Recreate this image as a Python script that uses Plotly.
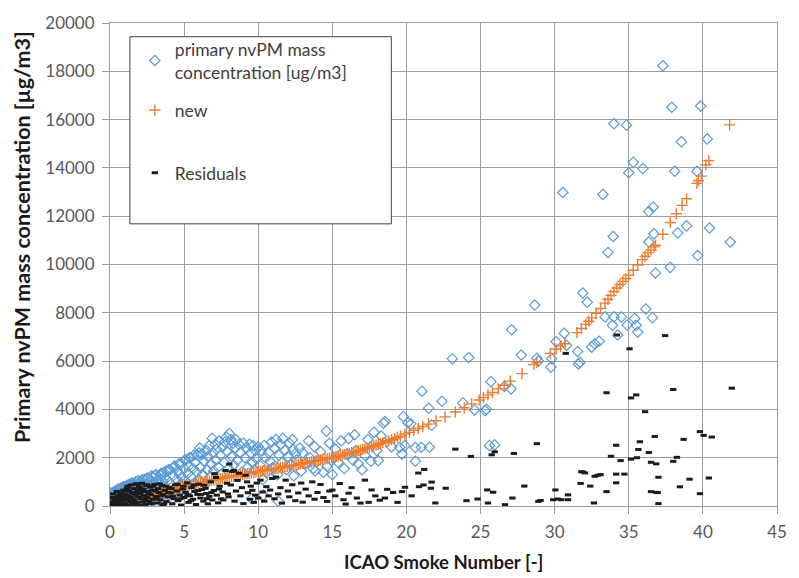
import plotly.graph_objects as go

# ---------------- data ----------------
# primary nvPM mass concentration [ug/m3] vs ICAO Smoke Number
primary_pts = [
    (0.0, 0), (0.0, 100), (0.0, 250), (0.0, 400), (0.0, 550), (0.05, 50), (0.1, 120), (0.1, 300), (0.15, 20),
    (0.15, 550), (0.35, 620), (0.55, 700), (0.75, 750), (1.0, 800), (1.2, 850), (1.4, 900), (1.65, 950), (1.9, 1050),
    (2.2, 1100), (2.5, 1150), (2.8, 1250), (3.1, 1300), (3.45, 1350), (3.65, 1400), (3.95, 1500), (4.3, 1600),
    (4.65, 1750), (5.05, 1900), (5.35, 2000), (5.65, 2100), (6.0, 2200),
    (0.2, 200), (0.2, 450), (0.25, 80), (0.3, 350), (0.3, 600), (0.35, 150), (0.4, 250), (0.4, 500), (0.45, 40),
    (0.5, 420), (0.5, 650), (0.55, 180), (0.6, 300), (0.65, 550), (0.7, 100), (0.7, 700), (0.75, 400), (0.8, 250),
    (0.85, 600), (0.9, 150), (0.9, 800), (0.95, 450), (1.0, 300), (1.0, 700),
    (1.05, 50), (1.1, 550), (1.15, 850), (1.2, 200), (1.25, 400), (1.3, 900), (1.35, 650), (1.4, 100), (1.45, 750),
    (1.5, 300), (1.5, 950), (1.55, 500), (1.6, 850), (1.65, 200), (1.7, 650), (1.75, 1000), (1.8, 400), (1.85, 800),
    (1.9, 100), (1.95, 600), (2.0, 950),
    (2.05, 300), (2.1, 1050), (2.15, 700), (2.2, 150), (2.25, 850), (2.3, 500), (2.35, 1100), (2.4, 250), (2.45, 900),
    (2.5, 650), (2.55, 1150), (2.6, 100), (2.65, 400), (2.7, 1000), (2.75, 800), (2.8, 200), (2.85, 1200), (2.9, 550),
    (2.95, 950), (3.0, 350),
    (3.05, 1250), (3.1, 700), (3.15, 150), (3.2, 1100), (3.3, 900), (3.35, 450), (3.4, 1300), (3.5, 600), (3.55, 1000),
    (3.6, 250), (3.7, 1200), (3.75, 800), (3.8, 1450), (3.85, 400), (3.9, 1050), (4.0, 650),
    (4.05, 1500), (4.1, 900), (4.2, 300), (4.25, 1250), (4.35, 1650), (4.4, 700), (4.5, 1100), (4.55, 1450), (4.6, 500),
    (4.7, 1300), (4.75, 900), (4.8, 1750), (4.9, 1150), (4.95, 600), (5.0, 1550),
    (5.1, 1900), (5.15, 1000), (5.25, 1350), (5.3, 1650), (5.4, 700), (5.45, 2000), (5.5, 1200), (5.6, 1550), (5.7, 950),
    (5.75, 1800), (5.85, 1400), (5.9, 2100), (6.0, 1100),
    (6.05, 2400), (6.1, 1600), (6.2, 2150), (6.25, 1300), (6.35, 1850), (6.4, 900), (6.5, 2300), (6.55, 1500), (6.6, 2050),
    (6.7, 2500), (6.75, 1200), (6.8, 1750), (6.9, 2800), (6.95, 2200), (7.0, 1450),
    (7.1, 2550), (7.15, 1900), (7.2, 2350), (7.3, 1600), (7.35, 2700), (7.45, 2100), (7.5, 1300), (7.6, 2450), (7.7, 1800),
    (7.75, 2650), (7.85, 2850), (7.9, 2250), (8.0, 1550),
    (8.05, 3000), (8.15, 2750), (8.2, 2050), (8.3, 2600), (8.35, 1700), (8.45, 2400), (8.5, 2750), (8.6, 1900), (8.7, 2550),
    (8.8, 2200), (8.9, 1400), (9.0, 2600),
    (9.1, 2000), (9.2, 2400), (9.3, 1600), (9.4, 2550), (9.5, 2200), (9.55, 300), (9.6, 1800), (9.65, 2500), (9.75, 1500),
    (9.8, 2300), (9.9, 1950), (10.0, 2450),
    (10.1, 1700), (10.2, 2300), (10.3, 1100), (10.35, 450), (10.4, 2500), (10.5, 2000), (10.6, 1400), (10.7, 2200),
    (10.8, 1850), (10.9, 2650), (11.0, 1600), (11.1, 2400), (11.2, 2750), (11.3, 1300), (11.35, 200), (11.4, 2100),
    (11.5, 2550), (11.6, 1800), (11.65, 2800), (11.8, 2300), (11.9, 1500), (12.0, 2050),
    (12.1, 2600), (12.2, 1700), (12.3, 2750), (12.35, 2350), (12.4, 1250), (12.5, 2150), (12.6, 1900), (12.8, 2400),
    (12.9, 1450), (13.0, 2200), (13.2, 1750), (13.4, 2700), (13.5, 2000), (13.7, 1550), (13.8, 2450), (13.85, 1450),
    (14.0, 1850),
    (14.2, 2250), (14.4, 1400), (14.6, 3100), (14.65, 1650), (14.8, 2600), (14.95, 1880), (15.0, 1300), (15.2, 2350),
    (15.4, 1800), (15.6, 2700), (15.8, 1550), (16.0, 2150),
    (16.1, 2800), (16.4, 1900), (16.5, 2950), (16.6, 2300), (16.75, 1750), (17.0, 1500), (17.2, 2100), (17.4, 2750),
    (17.6, 1850), (17.8, 3050), (18.0, 2300),
    (18.1, 1880), (18.3, 2900), (18.45, 3430), (18.55, 3500), (19.0, 2450), (19.55, 2420), (19.7, 2150), (19.8, 3700),
    (19.9, 2500),
    (20.1, 3450), (20.3, 3400), (20.6, 1850), (20.6, 2420), (21.0, 2430), (21.05, 4750), (21.5, 4050), (21.55, 2430),
    (21.7, 3350), (22.4, 4340), (23.1, 6100), (23.8, 4270), (24.2, 6150), (24.6, 3980), (25.3, 3950), (25.4, 4000),
    (25.6, 2500), (25.7, 5150), (25.95, 2530), (26.6, 4950), (27.05, 4850), (27.1, 7300), (27.75, 6250), (28.65, 8320),
    (28.8, 6120), (28.9, 6000), (29.75, 5750), (29.8, 6100), (30.1, 6800),
    (30.55, 12980), (30.65, 7150), (30.8, 6650), (31.55, 6400), (31.6, 5880), (31.7, 5950), (31.9, 8820), (32.2, 8440),
    (32.5, 6580), (32.7, 6720), (33.0, 6820), (33.25, 12900), (33.4, 7830), (33.6, 10500), (33.9, 7480), (33.95, 11160),
    (34.0, 15830), (34.0, 7830), (34.25, 7080), (34.5, 7820), (34.85, 15770), (34.9, 7490), (35.0, 13800), (35.3, 14230),
    (35.4, 7760), (35.5, 7480), (35.6, 7200),
    (35.95, 13970), (36.15, 8160), (36.35, 12190), (36.35, 10930), (36.6, 7800), (36.65, 12380), (36.7, 11270),
    (36.8, 9650), (37.3, 18230), (37.8, 9880), (37.9, 16510), (38.1, 13860), (38.3, 11310), (38.55, 15080),
    (38.9, 11600), (39.6, 13860), (39.65, 10370), (39.85, 16560), (40.3, 15200), (40.45, 11510), (41.85, 10930),
]

# "new" model values
new_pts = [
    (0.0, 0), (0.2, 10), (0.4, 25), (0.6, 40), (0.8, 60), (1.0, 80), (1.2, 105), (1.4, 135), (1.6, 165), (1.8, 195),
    (2.0, 230), (2.2, 265), (2.4, 300), (2.6, 340), (2.8, 380), (3.0, 420), (3.2, 460), (3.4, 500), (3.6, 540),
    (3.8, 580), (4.0, 620), (4.3, 680), (4.6, 740), (4.9, 790), (5.2, 840), (5.5, 880), (5.8, 925), (6.1, 965),
    (6.4, 1005), (6.7, 1040), (7.0, 1080), (7.3, 1115), (7.6, 1150), (7.9, 1190), (8.2, 1225), (8.5, 1260), (8.8, 1290),
    (9.1, 1320), (9.4, 1355), (9.7, 1390), (10.0, 1420), (10.3, 1455), (10.6, 1485), (10.9, 1520), (11.2, 1550),
    (11.5, 1585), (11.8, 1620), (12.1, 1650), (12.4, 1685), (12.7, 1720), (13.0, 1760), (13.3, 1795), (13.6, 1830),
    (13.9, 1870), (14.2, 1905), (14.5, 1945), (14.8, 1985), (15.1, 2025), (15.4, 2070), (15.7, 2115), (16.0, 2160),
    (16.3, 2210), (16.6, 2260), (16.9, 2310), (17.2, 2370), (17.5, 2430), (17.8, 2490), (18.1, 2550), (18.4, 2620),
    (18.8, 2700), (19.2, 2790), (19.6, 2890), (19.9, 2980), (20.2, 3050), (20.5, 3130), (20.8, 3210), (21.1, 3290),
    (21.5, 3390), (22.0, 3530), (22.6, 3690), (23.3, 3890), (23.9, 4070), (24.4, 4230), (24.9, 4390), (25.2, 4490),
    (25.5, 4600), (25.8, 4700), (26.2, 4850), (26.6, 5000), (27.0, 5170), (27.8, 5480), (28.6, 5860), (28.8, 5950),
    (29.7, 6320), (30.1, 6500), (30.4, 6620), (30.7, 6720), (31.5, 7180), (31.8, 7350), (32.1, 7520), (32.3, 7650),
    (32.5, 7790), (32.8, 7980), (33.1, 8180), (33.4, 8400), (33.6, 8560), (33.8, 8720), (34.0, 8880), (34.2, 9030),
    (34.4, 9170), (34.6, 9300), (34.8, 9420), (35.0, 9560), (35.3, 9760), (35.6, 9980), (35.9, 10200), (36.1, 10340),
    (36.3, 10480), (36.5, 10600), (36.7, 10730), (36.8, 10800), (37.3, 11250), (37.8, 11740), (38.2, 12100),
    (38.6, 12450), (38.9, 12720), (39.6, 13360), (39.7, 13470), (39.9, 13660), (40.2, 14130), (40.4, 14300),
    (41.8, 15780),
    # denser part of the band between SN 3 and 19
    (3.1, 440), (3.3, 480), (3.5, 520), (3.7, 560), (3.9, 600), (4.15, 650), (4.45, 710), (4.75, 765), (5.05, 815),
    (5.35, 860), (5.65, 900), (5.95, 945), (6.25, 985), (6.55, 1020), (6.85, 1060), (7.15, 1100), (7.45, 1130),
    (7.75, 1170), (8.05, 1205), (8.35, 1240), (8.65, 1275), (8.95, 1305), (9.25, 1340), (9.55, 1370), (9.85, 1405),
    (10.15, 1440), (10.45, 1470), (10.75, 1500), (11.05, 1535), (11.35, 1570), (11.65, 1600), (11.95, 1635),
    (12.25, 1670), (12.55, 1700), (12.85, 1740), (13.15, 1775), (13.45, 1810), (13.75, 1850), (14.05, 1885),
    (14.35, 1925), (14.65, 1965), (14.95, 2005), (15.25, 2045), (15.55, 2090), (15.85, 2135), (16.15, 2185),
    (16.45, 2235), (16.75, 2285), (17.05, 2340), (17.35, 2400), (17.65, 2460), (17.95, 2520), (18.25, 2585),
    (18.6, 2660), (19.0, 2745), (19.4, 2840),
]

# Residuals
residual_pts = [
    (0.0, 0), (0.05, 30), (0.1, 80), (0.15, 150), (0.2, 40), (0.25, 220), (0.3, 100), (0.35, 300), (0.4, 20),
    (0.45, 180), (0.5, 380), (0.55, 60), (0.6, 260), (0.65, 450), (0.7, 130), (0.75, 330), (0.8, 550), (0.85, 10),
    (0.9, 240), (0.9, 660), (0.95, 400), (1.0, 90),
    (1.05, 500), (1.1, 280), (1.15, 750), (1.2, 30), (1.25, 420), (1.3, 620), (1.35, 180), (1.4, 870), (1.45, 350),
    (1.5, 560), (1.55, 70), (1.6, 720), (1.65, 250), (1.7, 480), (1.75, 920), (1.8, 140), (1.85, 640), (1.9, 380),
    (1.95, 800), (2.0, 20),
    (2.05, 520), (2.1, 300), (2.15, 940), (2.2, 160), (2.25, 700), (2.3, 430), (2.4, 60), (2.45, 850), (2.5, 350),
    (2.55, 600), (2.6, 200), (2.7, 780), (2.75, 470), (2.8, 100), (2.85, 650), (2.9, 280), (3.0, 900),
    (3.1, 400), (3.2, 120), (3.25, 720), (3.3, 560), (3.4, 250), (3.5, 850), (3.55, 30), (3.6, 480), (3.7, 650),
    (3.8, 180), (3.9, 380), (4.0, 760),
    (4.1, 540), (4.2, 90), (4.3, 300), (4.4, 880), (4.5, 620), (4.6, 220), (4.7, 450), (4.8, 40), (4.9, 700), (5.0, 350),
    (5.1, 560), (5.2, 960), (5.3, 150), (5.4, 420), (5.5, 760), (5.6, 280), (5.7, 600), (5.8, 60), (5.9, 480), (6.0, 900),
    (6.1, 330), (6.2, 680), (6.3, 200), (6.45, 730), (6.5, 520), (6.6, 90), (6.7, 400), (6.8, 1000), (6.9, 250),
    (7.0, 640),
    (0.1, 350), (0.2, 500), (0.3, 10), (0.45, 600), (0.6, 150), (0.7, 520), (0.8, 380), (0.95, 120), (1.1, 650),
    (1.2, 820), (1.3, 300), (1.45, 160), (1.6, 520), (1.7, 40), (1.8, 900), (1.9, 560), (2.05, 750), (2.2, 600),
    (2.35, 240), (2.5, 880), (2.6, 520), (2.75, 120), (2.9, 820), (3.05, 620), (3.15, 300), (3.35, 920), (3.45, 420),
    (3.65, 80), (3.75, 820), (3.95, 560), (4.15, 720), (4.25, 400), (4.55, 900), (4.75, 300), (4.95, 820), (5.25, 460),
    (5.45, 220), (5.65, 870), (5.95, 640), (6.15, 480), (6.35, 860), (6.55, 300), (6.85, 560), (7.35, 700), (7.65, 250),
    (7.95, 500),
    (7.05, 1340), (7.15, 1180), (7.2, 450), (7.3, 130), (7.4, 820), (7.5, 300), (7.6, 580), (7.8, 1470), (7.9, 940),
    (8.0, 380),
    (8.05, 1740), (8.15, 870), (8.25, 1430), (8.35, 1470), (8.4, 200), (8.5, 620), (8.6, 1060), (8.7, 1360), (8.8, 420),
    (8.9, 760), (9.0, 100),
    (9.15, 1270), (9.25, 1000), (9.3, 550), (9.45, 280), (9.5, 820), (9.6, 650), (9.7, 150), (9.8, 450), (9.9, 950),
    (10.0, 330),
    (10.15, 1070), (10.3, 580), (10.4, 200), (10.55, 800), (10.7, 420), (10.8, 660), (10.95, 1140), (11.1, 300),
    (11.2, 1200), (11.35, 500), (11.5, 760), (11.6, 120), (11.85, 1070), (12.0, 620),
    (12.1, 380), (12.3, 880), (12.5, 220), (12.7, 540), (12.9, 950), (13.0, 160), (13.2, 700), (13.4, 420), (13.65, 1000),
    (13.8, 280), (14.0, 560),
    (14.2, 890), (14.4, 350), (14.65, 190), (14.8, 620), (15.0, 660), (15.2, 420), (15.5, 930), (15.75, 260), (15.9, 80),
    (16.1, 530),
    (16.3, 760), (16.65, 330), (16.9, 120), (17.2, 1070), (17.45, 150), (17.65, 665), (17.9, 420), (18.2, 240),
    (18.55, 330), (18.7, 690), (19.1, 560), (19.4, 150), (19.7, 595), (19.9, 775),
    (20.35, 420), (20.8, 1365), (20.85, 800), (21.15, 870), (21.2, 1515), (21.65, 735), (21.7, 990), (21.95, 125),
    (22.65, 735), (23.3, 2355), (24.05, 220), (24.35, 2055), (24.8, 290), (25.45, 665), (25.5, 125), (25.75, 2120),
    (25.85, 570), (25.95, 2245), (26.65, 55), (27.15, 330), (27.25, 2175), (27.95, 825), (28.8, 2580), (28.9, 190),
    (29.05, 230), (29.9, 260), (30.05, 665), (30.2, 290), (30.45, 260),
    (30.75, 6320), (30.9, 460), (30.9, 260), (31.75, 935), (31.8, 1420), (31.9, 1405), (32.05, 1370), (32.4, 825),
    (32.65, 125), (32.7, 1230), (32.9, 1270), (33.1, 1300), (33.5, 595), (33.5, 4690), (33.8, 2060), (34.15, 2515),
    (34.15, 1320), (34.15, 960), (34.2, 7080), (34.45, 1880), (34.7, 1320), (35.05, 6510), (35.15, 4475), (35.15, 1940),
    (35.5, 4600), (35.55, 2000), (35.65, 2340), (35.75, 2660), (36.1, 3905), (36.35, 2215), (36.5, 1810), (36.5, 595),
    (36.75, 2880), (36.85, 1745), (36.85, 565), (36.95, 555), (37.0, 1190), (37.0, 100), (37.45, 7055), (38.0, 4825),
    (38.0, 1850), (38.25, 2015), (38.45, 795), (38.7, 2760), (39.1, 1110), (39.8, 3080), (39.8, 510), (40.05, 2925),
    (40.4, 1160), (40.6, 2855), (41.95, 4880),
]

x_ticks = [0, 5, 10, 15, 20, 25, 30, 35, 40, 45]
y_ticks = [0, 2000, 4000, 6000, 8000, 10000, 12000, 14000, 16000, 18000, 20000]

# ---------------- figure ----------------
FONT = "Lato"
GRID = "#9e9e9e"
BLUE = "#5B9BD5"
ORANGE = "#ED7D31"
DARK = "#1c1c1c"

def split(pts):
    return [p[0] for p in pts], [p[1] for p in pts]

bx, by = split(primary_pts)
nx, ny = split(new_pts)
rx, ry = split(residual_pts)

fig = go.Figure()
fig.add_trace(go.Scatter(
    x=bx, y=by, mode="markers", name="primary nvPM mass<br>concentration [ug/m3]",
    marker=dict(symbol="diamond-open", size=8, color=BLUE, line=dict(width=1.2, color=BLUE)),
    legend="legend"))
fig.add_trace(go.Scatter(
    x=nx, y=ny, mode="markers", name="new",
    marker=dict(symbol="cross-thin-open", size=8, color=ORANGE, line=dict(width=1.4, color=ORANGE)),
    legend="legend2"))
fig.add_trace(go.Scatter(
    x=rx, y=ry, mode="markers", name="Residuals",
    marker=dict(symbol="line-ew-open", size=4.5, color=DARK, line=dict(width=3, color=DARK)),
    legend="legend3"))

L, R, T, B = 110, 18, 13, 72
W, H = 799, 578
pw, ph = W - L - R, H - T - B

def px_x(p):
    return (p - L) / pw

def px_y(p):
    return (H - B - p) / ph

leg_common = dict(xanchor="left", yanchor="middle", bgcolor="rgba(0,0,0,0)", borderwidth=0,
                  font=dict(family=FONT, size=17.5, color="#404040"))

axis_common = dict(showgrid=True, gridcolor=GRID, gridwidth=1, showline=True, linecolor=GRID, linewidth=1,
                   mirror=True, ticks="outside", ticklen=7, tickcolor=GRID, zeroline=False,
                   tickfont=dict(family=FONT, size=17, color="#595959"))

fig.update_layout(
    width=W, height=H, margin=dict(l=L, r=R, t=T, b=B),
    paper_bgcolor="white", plot_bgcolor="white",
    font=dict(family=FONT, size=17, color="#595959"),
    xaxis=dict(range=[0, 45], tickvals=x_ticks, ticklabelstandoff=4, **axis_common),
    yaxis=dict(range=[0, 20000], tickvals=y_ticks, tickformat="d", ticklabelstandoff=4, **axis_common),
    legend=dict(x=px_x(135), y=px_y(51.5), **leg_common),
    legend2=dict(x=px_x(135), y=px_y(102), **leg_common),
    legend3=dict(x=px_x(135), y=px_y(166), **leg_common),
    shapes=[dict(type="rect", xref="paper", yref="paper",
                 x0=px_x(130), x1=px_x(393), y0=px_y(218), y1=px_y(27),
                 line=dict(color="#404040", width=1), fillcolor="white", layer="above")],
    annotations=[
        dict(text="<b>Primary nvPM mass concentration [µg/m3]</b>", textangle=-90,
             xref="paper", yref="paper", x=px_x(21), y=px_y(232), xanchor="center", yanchor="middle",
             showarrow=False, font=dict(family=FONT, size=21.5, color="#1a1a1a")),
        dict(text="<b>ICAO Smoke Number [-]</b>",
             xref="paper", yref="paper", x=px_x(445), y=px_y(563), xanchor="center", yanchor="middle",
             showarrow=False, font=dict(family=FONT, size=18.5, color="#1a1a1a")),
    ],
    showlegend=True,
)

fig.write_html("out.html")
